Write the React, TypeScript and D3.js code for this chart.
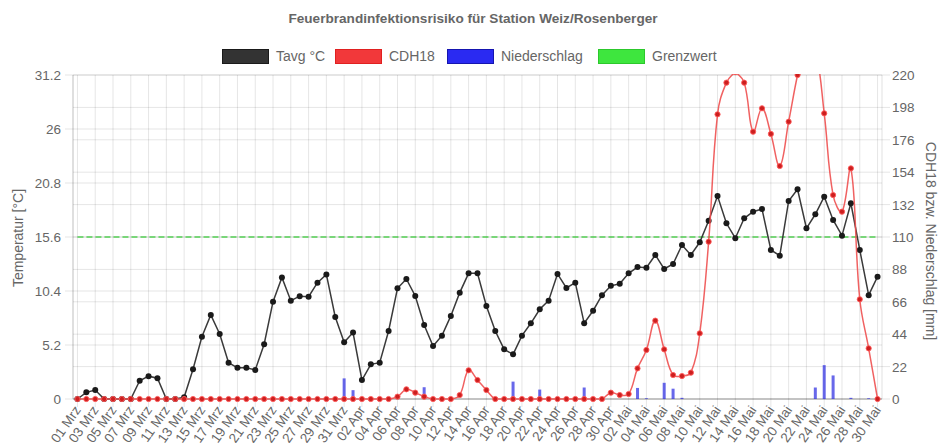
import React from "react";
import * as d3 from "d3";

const monthNames = ["Mrz", "Apr", "Mai"];
const monthDays = [31, 30, 30];

const tavg = [
  0, 0.64, 0.87, 0, 0, 0, 0, 1.76, 2.2, 2.0,
  0, 0, 0.16, 2.86, 6.0, 8.1, 6.26, 3.5, 3.0, 3.0,
  2.8, 5.27, 9.37, 11.7, 9.47, 9.9, 9.85, 11.2, 12.0, 7.9,
  5.46, 6.4, 1.83, 3.34, 3.5, 6.55, 10.66, 11.56, 9.92, 7.13,
  5.1, 6.1, 8.0, 10.24, 12.1, 12.1, 8.96, 6.55, 4.78, 4.3,
  6.1, 7.29, 8.64, 9.47, 12.04, 10.7, 11.2, 7.29, 8.5, 10.0,
  10.9, 11.1, 12.1, 12.7, 12.64, 13.87, 12.52, 13.0, 14.83, 13.87,
  15.09, 17.17, 19.55, 16.92, 15.48, 17.4, 18.04, 18.3, 14.35, 13.8,
  19.07, 20.2, 16.44, 17.79, 19.48, 17.24, 15.73, 18.85, 14.35, 10.0,
  11.78,
];

const cdh18 = [
  0, 0, 0, 0, 0, 0, 0, 0, 0, 0,
  0, 0, 0, 0, 0, 0, 0, 0, 0, 0,
  0, 0, 0, 0, 0, 0, 0, 0, 0, 0,
  0, 0, 0, 0, 0, 0, 1.6, 6.6, 4.3, 1.6,
  0, 0, 0, 2.7, 19.5, 12.9, 6.1, 0, 0, 0,
  0, 0, 0, 0, 0, 0, 0, 0, 0, 0,
  4.3, 2.7, 3.4, 20.8, 33.3, 53.2, 33.7, 16.3, 15.6, 17.9,
  44.6, 106.8, 193.3, 214.8, 222, 214.8, 181.5, 197.4, 180, 158.2,
  188.3, 220, 245, 238, 194, 138.5, 127.2, 156.6, 67.7, 34.4,
  0,
];

const niederschlag = [
  0, 0, 0, 0, 0, 0, 0, 0, 0, 0,
  0, 0, 0, 0, 0, 0, 0, 0, 0, 0,
  0, 0, 0, 0, 0, 0, 0, 0, 0, 0,
  14, 6, 0, 0, 0, 0, 0, 0, 0, 8,
  0, 0, 0, 0, 0, 0, 0, 0, 0, 11.8,
  0, 0, 6.4, 0, 0, 0, 0, 7.8, 0, 0,
  0, 0, 0, 7.5, 0.5, 0, 11, 7, 0.8, 0,
  0, 0, 0, 0, 0, 0, 0, 0, 0, 0,
  0, 0, 0, 7.8, 23, 16, 0, 0.8, 0, 0.5,
  0,
];

const grenzwert = 110;

const leftTicks = [0, 5.2, 10.4, 15.6, 20.8, 26, 31.2];
const rightTicks = [0, 22, 44, 66, 88, 110, 132, 154, 176, 198, 220];

const legendItems = [
  { label: "Tavg °C", fill: "#333333", stroke: "#1a1a1a" },
  { label: "CDH18", fill: "#f2383a", stroke: "#e02020" },
  { label: "Niederschlag", fill: "#2a2af2", stroke: "#1515b0" },
  { label: "Grenzwert", fill: "#3ee63e", stroke: "#2cc82c" },
];

const labels: string[] = [];
monthNames.forEach((m, mi) => {
  for (let d = 1; d <= monthDays[mi]; d++) {
    labels.push(String(d).padStart(2, "0") + " " + m);
  }
});

const W = 946;
const H = 443;
const L = 73;
const R = 882;
const T = 75;
const B = 399;
const FONT = "'Liberation Sans', Arial, Helvetica, sans-serif";
const TXT = "#666";

function chartSpline(pts: [number, number][], tension: number) {
  const cps = pts.map((p1, i) => {
    const p0 = pts[i - 1] || p1;
    const p2 = pts[i + 1] || p1;
    const d01 = Math.hypot(p1[0] - p0[0], p1[1] - p0[1]);
    const d12 = Math.hypot(p2[0] - p1[0], p2[1] - p1[1]);
    let s01 = d01 / (d01 + d12);
    let s12 = d12 / (d01 + d12);
    if (!isFinite(s01)) s01 = 0;
    if (!isFinite(s12)) s12 = 0;
    const fa = tension * s01;
    const fb = tension * s12;
    const cap = (x: number, y: number): [number, number] => [
      Math.max(L, Math.min(R, x)),
      Math.max(T, Math.min(B, y)),
    ];
    return {
      prev: cap(p1[0] - fa * (p2[0] - p0[0]), p1[1] - fa * (p2[1] - p0[1])),
      next: cap(p1[0] + fb * (p2[0] - p0[0]), p1[1] + fb * (p2[1] - p0[1])),
    };
  });
  const path = d3.path();
  pts.forEach((p, i) => {
    if (i === 0) path.moveTo(p[0], p[1]);
    else {
      const a = cps[i - 1].next;
      const b = cps[i].prev;
      path.bezierCurveTo(a[0], a[1], b[0], b[1], p[0], p[1]);
    }
  });
  return path.toString();
}

export default function App() {
  const idx = labels.map((_, i) => i);
  const x = d3.scaleBand<number>().domain(idx).range([L, R]);
  const cx = (i: number) => (x(i) as number) + x.bandwidth() / 2;
  const yL = d3.scaleLinear().domain([0, 31.2]).range([B, T]);
  const yR = d3.scaleLinear().domain([0, 220]).range([B, T]);

  const blackLine = d3
    .line<number>()
    .x((_, i) => cx(i))
    .y((d) => yL(d))(tavg) as string;

  const redPts: [number, number][] = cdh18.map((d, i) => [cx(i), yR(d)]);
  const redPath = chartSpline(redPts, 0.4);

  const tickIdx = idx.filter((i) => i % 2 === 0);

  // legend layout
  const legendX = [222, 335, 447, 598];

  return (
    <svg
      width={W}
      height={H}
      style={{ position: "fixed", left: 0, top: 0, background: "#fff" }}
      fontFamily={FONT}
    >
      <defs>
        <clipPath id="plot">
          <rect x={L} y={T - 1} width={R - L} height={B - T + 6} />
        </clipPath>
      </defs>
      <rect width={W} height={H} fill="#fff" />
      {/* title */}
      <text x={473} y={23} textAnchor="middle" fontSize={13.6} fontWeight="bold" fill={TXT}>
        Feuerbrandinfektionsrisiko für Station Weiz/Rosenberger
      </text>
      {/* legend */}
      {legendItems.map((it, i) => (
        <g key={it.label} transform={`translate(${legendX[i]},49)`}>
          <rect x={0.5} y={0.5} width={46} height={14} fill={it.fill} stroke={it.stroke} strokeWidth={1} />
          <text x={54} y={12} fontSize={14} fill={TXT}>
            {it.label}
          </text>
        </g>
      ))}
      {/* horizontal grid left */}
      {leftTicks.map((t) => (
        <line key={"gl" + t} x1={L - 8} x2={R} y1={yL(t)} y2={yL(t)} stroke="rgba(0,0,0,0.1)" />
      ))}
      {rightTicks.map((t) => (
        <line key={"gr" + t} x1={L} x2={R + 8} y1={yR(t)} y2={yR(t)} stroke="rgba(0,0,0,0.1)" />
      ))}
      {/* vertical grid */}
      {tickIdx.map((i) => (
        <line key={"v" + i} x1={cx(i)} x2={cx(i)} y1={T} y2={B + 8} stroke="rgba(0,0,0,0.1)" />
      ))}
      <line x1={L} x2={L} y1={T} y2={B} stroke="rgba(0,0,0,0.25)" />
      <line x1={R} x2={R} y1={T} y2={B} stroke="rgba(0,0,0,0.12)" />
      <line x1={L} x2={R} y1={B} y2={B} stroke="rgba(0,0,0,0.3)" />
      {/* left ticks */}
      {leftTicks.map((t) => (
        <text key={"lt" + t} x={61} y={yL(t) + 5} textAnchor="end" fontSize={13.5} fill={TXT}>
          {String(t)}
        </text>
      ))}
      {rightTicks.map((t) => (
        <text key={"rt" + t} x={892} y={yR(t) + 5} textAnchor="start" fontSize={13.5} fill={TXT}>
          {String(t)}
        </text>
      ))}
      {/* axis titles */}
      <text transform={`translate(23,238) rotate(-90)`} textAnchor="middle" fontSize={14} fill={TXT}>
        Temperatur [°C]
      </text>
      <text transform={`translate(926,241) rotate(90)`} textAnchor="middle" fontSize={14} fill={TXT}>
        CDH18 bzw. Niederschlag [mm]
      </text>
      {/* x labels */}
      {tickIdx.map((i) => (
        <text
          key={"xl" + i}
          transform={`translate(${cx(i) + 4},${B + 11}) rotate(-55)`}
          textAnchor="end"
          fontSize={13.5}
          fill={TXT}
        >
          {labels[i]}
        </text>
      ))}
      <g clipPath="url(#plot)">
        {/* bars */}
        {niederschlag.map((d, i) =>
          d > 0 ? (
            <rect
              key={"b" + i}
              x={cx(i) - 1.5}
              y={yR(d)}
              width={3}
              height={B - yR(d)}
              fill="rgba(40,40,225,0.7)"
            />
          ) : null
        )}
        {/* grenzwert */}
        <line
          x1={cx(0)}
          x2={cx(labels.length - 1)}
          y1={yR(grenzwert)}
          y2={yR(grenzwert)}
          stroke="rgba(60,205,60,0.85)"
          strokeWidth={1.5}
          strokeDasharray="6,3"
        />
        {/* black line */}
        <path d={blackLine} fill="none" stroke="#3a3a3a" strokeWidth={1.5} />
        {tavg.map((d, i) => (
          <circle key={"bp" + i} cx={cx(i)} cy={yL(d)} r={3} fill="#1a1a1a" />
        ))}
        {/* red line */}
        <path d={redPath} fill="none" stroke="rgba(238,80,80,0.9)" strokeWidth={1.5} />
        {cdh18.map((d, i) => (
          <circle
            key={"rp" + i}
            cx={cx(i)}
            cy={yR(d)}
            r={2.6}
            fill="#cc1f1f"
            stroke="rgba(255,90,90,0.9)"
            strokeWidth={1}
          />
        ))}
      </g>
    </svg>
  );
}
